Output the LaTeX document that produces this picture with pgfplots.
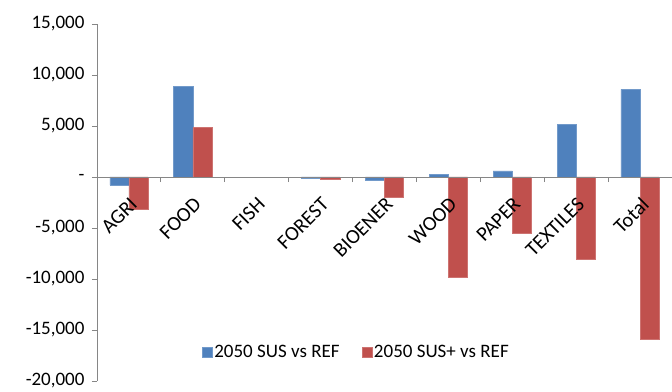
\documentclass[border=0pt]{standalone}
\usepackage{fontspec}
\setmainfont{Carlito}
\usepackage{pgfplots}
\pgfplotsset{compat=1.18}
\definecolor{cblue}{HTML}{4F81BD}
\definecolor{cred}{HTML}{C0504D}
\definecolor{axgray}{HTML}{868686}
\begin{document}
\begin{tikzpicture}[x=1pt,y=1pt]
\useasboundingbox (0,0) rectangle (672,391);
\begin{axis}[
  at={(97pt,10pt)}, anchor=south west,
  scale only axis, width=575pt, height=357pt,
  xmin=-0.5, xmax=8.5, ymin=-20000, ymax=15000,
  axis x line=middle, axis y line=left,
  axis on top,
  axis line style={-, draw=axgray, line width=0.8pt},
  ybar, bar width=0.3,
  xtick={0,...,8},
  xticklabels={AGRI,FOOD,FISH,FOREST,BIOENER,WOOD,PAPER,TEXTILES,Total},
  major x tick style={draw=none},
  minor xtick={-0.5,0.5,...,8.5},
  minor tick length=5pt,
  minor x tick style={draw=axgray, line width=0.8pt},
  tick align=outside,
  major tick length=5pt,
  ytick={-20000,-15000,...,15000},
  yticklabels={{-20,000},{-15,000},{-10,000},{-5,000},{-},{5,000},{10,000},{15,000}},
  y tick style={draw=axgray, line width=0.8pt},
  x tick label style={rotate=45, anchor=north east, font=\fontsize{20.5}{22}\selectfont, inner sep=1pt, xshift=-9pt, yshift=-9pt},
  y tick label style={font=\fontsize{19}{20}\selectfont, xshift=-4pt},
  scaled y ticks=false,
  legend style={draw=none, fill=none, at={(0.451,0.081)}, anchor=center, legend columns=2,
    font=\fontsize{19}{20}\selectfont, /tikz/every even column/.append style={column sep=20pt}},
  legend image code/.code={\fill[#1] (0pt,-5pt) rectangle (10pt,5pt);},
  clip=false,
]
\addplot[fill=cblue, draw=cblue!80!white, bar shift=-0.15] coordinates {
(0,-800) (1,8900) (3,-100) (4,-300) (5,250) (6,600) (7,5150) (8,8600)};
\addplot[fill=cred, draw=cred!80!white, bar shift=0.15] coordinates {
(0,-3200) (1,4850) (3,-200) (4,-1950) (5,-9800) (6,-5550) (7,-8050) (8,-15900)};
\legend{2050 SUS vs REF, 2050 SUS+ vs REF}
\end{axis}
\end{tikzpicture}
\end{document}
